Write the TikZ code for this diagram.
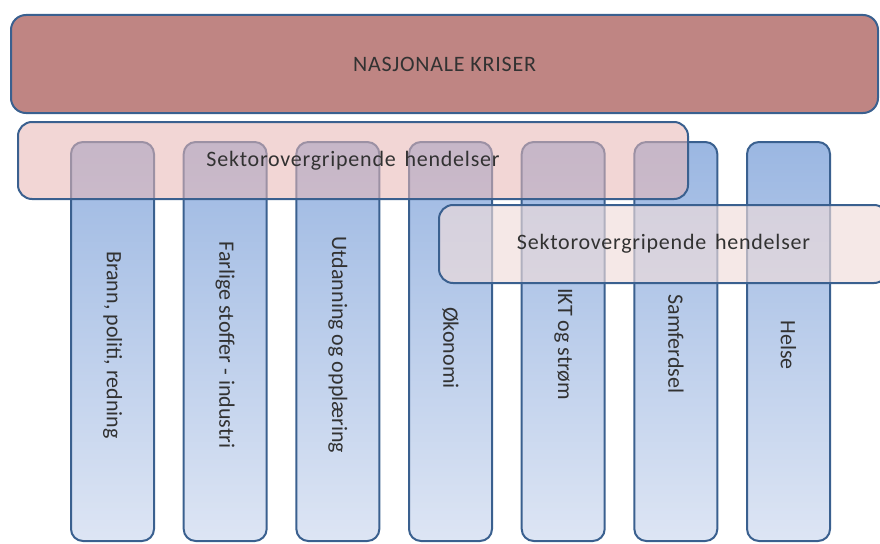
\documentclass[tikz,border=0pt]{standalone}
\usepackage{fontspec}
\setmainfont{Carlito}
\newfontfamily\widefont[LetterSpace=3.5]{Carlito}
\definecolor{edgeblue}{RGB}{58,96,143}
\definecolor{krisefill}{RGB}{191,133,131}
\definecolor{sektorA}{RGB}{232,183,181}
\definecolor{sektorB}{RGB}{240,220,218}
\definecolor{coltop}{RGB}{155,183,226}
\definecolor{colbot}{RGB}{221,229,244}
\definecolor{txt}{RGB}{50,50,50}
\tikzset{
  basebox/.style={draw=edgeblue, line width=2pt, inner sep=0pt, text=txt,
    font=\widefont\fontsize{22}{26}\selectfont},
  krisebox/.style={basebox, fill=krisefill, rounded corners=15pt},
  column/.style={basebox, rounded corners=12pt, top color=coltop, bottom color=colbot,
    minimum width=83pt, minimum height=399pt},
  sektorboxA/.style={basebox, fill=sektorA, fill opacity=0.57, draw opacity=1, text opacity=1, rounded corners=14pt},
  sektorboxB/.style={basebox, fill=sektorB, fill opacity=0.65, draw opacity=1, text opacity=1, rounded corners=14pt},
  lbl/.style={rotate=-90, text=txt, inner sep=0pt, font=\fontsize{22}{26}\selectfont}
}
\begin{document}
\begin{tikzpicture}[x=1pt,y=-1pt]
\useasboundingbox (0,0) rectangle (880,543);
\clip (0,0) rectangle (880,543);
\node[krisebox, minimum width=867pt, minimum height=98pt] (nk) at (444.5,64) {NASJONALE KRISER};
\foreach \i in {1,...,7} {
  \node[column] (col\i) at ({112.5+112.67*(\i-1)},341.5) {};
}
\node[lbl] (l1) at (col1 |- 0,345) {Brann, politi, redning};
\node[lbl] (l2) at (col2 |- 0,345) {Farlige stoffer - industri};
\node[lbl] (l3) at (col3 |- 0,345) {Utdanning og opplæring};
\node[lbl] (l4) at (col4 |- 0,348) {Økonomi};
\node[lbl] (l5) at (col5 |- 0,344) {IKT og strøm};
\node[lbl] (l6) at (col6 |- 0,344) {Samferdsel};
\node[lbl] (l7) at (col7 |- 0,345) {Helse};
\node[sektorboxA, minimum width=670pt, minimum height=77pt] (s1) at (353,160.5) {Sektorovergripende\hspace{3pt} hendelser};
\node[sektorboxB, minimum width=449pt, minimum height=78pt] (s2) at (663.5,244) {Sektorovergripende\hspace{3pt} hendelser};
\end{tikzpicture}
\end{document}
